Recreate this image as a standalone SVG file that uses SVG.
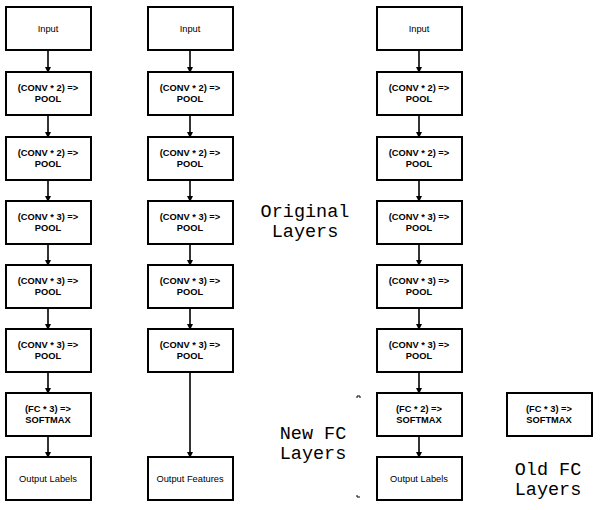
<svg xmlns="http://www.w3.org/2000/svg" width="600" height="510" viewBox="0 0 600 510">
<style>
.box{fill:#fff;stroke:#000;stroke-width:2}
.t{font-family:"Liberation Sans",Arial,sans-serif;font-size:9.3px;text-anchor:middle;fill:#000}
.b{font-weight:bold;font-size:9.3px}
.c{stroke:#000;stroke-width:1.6;fill:none}
.m{font-family:"Liberation Mono","Courier New",monospace;font-size:18.5px;text-anchor:middle;fill:#000}
</style>
<defs>
<marker id="a" markerWidth="6" markerHeight="6" refX="5" refY="3" orient="auto" markerUnits="userSpaceOnUse">
<path d="M0,0 L6,3 L0,6 z" fill="#000"/>
</marker>
</defs>
<rect width="600" height="510" fill="#fff"/>
<g id="connectors">
<path class="c" marker-end="url(#a)" d="M48,50 V72"/>
<path class="c" marker-end="url(#a)" d="M48,115 V137"/>
<path class="c" marker-end="url(#a)" d="M48,180 V201"/>
<path class="c" marker-end="url(#a)" d="M48,244 V265"/>
<path class="c" marker-end="url(#a)" d="M48,308 V329"/>
<path class="c" marker-end="url(#a)" d="M48,372 V393"/>
<path class="c" marker-end="url(#a)" d="M48,436 V457"/>
<path class="c" marker-end="url(#a)" d="M190,50 V72"/>
<path class="c" marker-end="url(#a)" d="M190,115 V137"/>
<path class="c" marker-end="url(#a)" d="M190,180 V201"/>
<path class="c" marker-end="url(#a)" d="M190,244 V265"/>
<path class="c" marker-end="url(#a)" d="M190,308 V329"/>
<path class="c" marker-end="url(#a)" d="M190,372 V457"/>
<path class="c" marker-end="url(#a)" d="M419,50 V72"/>
<path class="c" marker-end="url(#a)" d="M419,115 V137"/>
<path class="c" marker-end="url(#a)" d="M419,180 V201"/>
<path class="c" marker-end="url(#a)" d="M419,244 V265"/>
<path class="c" marker-end="url(#a)" d="M419,308 V329"/>
<path class="c" marker-end="url(#a)" d="M419,372 V393"/>
<path class="c" marker-end="url(#a)" d="M419,436 V457"/>
</g>
<g id="c1-input"><rect class="box" x="6" y="7" width="85" height="43"/><text class="t" x="48" y="32">Input</text></g>
<g id="c1-conv1"><rect class="box" x="6" y="72" width="85" height="43"/><text class="t b" x="48" y="91">(CONV * 2) =&gt;</text><text class="t b" x="48" y="102">POOL</text></g>
<g id="c1-conv2"><rect class="box" x="6" y="137" width="85" height="43"/><text class="t b" x="48" y="156">(CONV * 2) =&gt;</text><text class="t b" x="48" y="167">POOL</text></g>
<g id="c1-conv3"><rect class="box" x="6" y="201" width="85" height="43"/><text class="t b" x="48" y="220">(CONV * 3) =&gt;</text><text class="t b" x="48" y="231">POOL</text></g>
<g id="c1-conv4"><rect class="box" x="6" y="265" width="85" height="43"/><text class="t b" x="48" y="284">(CONV * 3) =&gt;</text><text class="t b" x="48" y="295">POOL</text></g>
<g id="c1-conv5"><rect class="box" x="6" y="329" width="85" height="43"/><text class="t b" x="48" y="348">(CONV * 3) =&gt;</text><text class="t b" x="48" y="359">POOL</text></g>
<g id="c1-fc"><rect class="box" x="6" y="393" width="85" height="43"/><text class="t b" x="48" y="412">(FC * 3) =&gt;</text><text class="t b" x="48" y="423">SOFTMAX</text></g>
<g id="c1-out"><rect class="box" x="6" y="457" width="85" height="43"/><text class="t" x="48" y="482">Output Labels</text></g>

<g id="c2-input"><rect class="box" x="148" y="7" width="85" height="43"/><text class="t" x="190" y="32">Input</text></g>
<g id="c2-conv1"><rect class="box" x="148" y="72" width="85" height="43"/><text class="t b" x="190" y="91">(CONV * 2) =&gt;</text><text class="t b" x="190" y="102">POOL</text></g>
<g id="c2-conv2"><rect class="box" x="148" y="137" width="85" height="43"/><text class="t b" x="190" y="156">(CONV * 2) =&gt;</text><text class="t b" x="190" y="167">POOL</text></g>
<g id="c2-conv3"><rect class="box" x="148" y="201" width="85" height="43"/><text class="t b" x="190" y="220">(CONV * 3) =&gt;</text><text class="t b" x="190" y="231">POOL</text></g>
<g id="c2-conv4"><rect class="box" x="148" y="265" width="85" height="43"/><text class="t b" x="190" y="284">(CONV * 3) =&gt;</text><text class="t b" x="190" y="295">POOL</text></g>
<g id="c2-conv5"><rect class="box" x="148" y="329" width="85" height="43"/><text class="t b" x="190" y="348">(CONV * 3) =&gt;</text><text class="t b" x="190" y="359">POOL</text></g>
<g id="c2-out"><rect class="box" x="148" y="457" width="85" height="43"/><text class="t" x="190" y="482">Output Features</text></g>

<g id="c3-input"><rect class="box" x="377" y="7" width="85" height="43"/><text class="t" x="419" y="32">Input</text></g>
<g id="c3-conv1"><rect class="box" x="377" y="72" width="85" height="43"/><text class="t b" x="419" y="91">(CONV * 2) =&gt;</text><text class="t b" x="419" y="102">POOL</text></g>
<g id="c3-conv2"><rect class="box" x="377" y="137" width="85" height="43"/><text class="t b" x="419" y="156">(CONV * 2) =&gt;</text><text class="t b" x="419" y="167">POOL</text></g>
<g id="c3-conv3"><rect class="box" x="377" y="201" width="85" height="43"/><text class="t b" x="419" y="220">(CONV * 3) =&gt;</text><text class="t b" x="419" y="231">POOL</text></g>
<g id="c3-conv4"><rect class="box" x="377" y="265" width="85" height="43"/><text class="t b" x="419" y="284">(CONV * 3) =&gt;</text><text class="t b" x="419" y="295">POOL</text></g>
<g id="c3-conv5"><rect class="box" x="377" y="329" width="85" height="43"/><text class="t b" x="419" y="348">(CONV * 3) =&gt;</text><text class="t b" x="419" y="359">POOL</text></g>
<g id="c3-fc"><rect class="box" x="377" y="393" width="85" height="43"/><text class="t b" x="419" y="412">(FC * 2) =&gt;</text><text class="t b" x="419" y="423">SOFTMAX</text></g>
<g id="c3-out"><rect class="box" x="377" y="457" width="85" height="43"/><text class="t" x="419" y="482">Output Labels</text></g>

<g id="c4-fc"><rect class="box" x="507" y="393" width="85" height="43"/><text class="t b" x="549" y="412">(FC * 3) =&gt;</text><text class="t b" x="549" y="423">SOFTMAX</text></g>

<g id="label-original"><text class="m" x="305" y="217">Original</text><text class="m" x="305" y="237">Layers</text></g>
<g id="label-new"><text class="m" x="313" y="439">New FC</text><text class="m" x="313" y="459">Layers</text></g>
<g id="label-old"><text class="m" x="548" y="475">Old FC</text><text class="m" x="548" y="495">Layers</text></g>
<g id="brackets"><path d="M357,398 V396 H360 V398" stroke="#000" stroke-width="1" fill="none"/><path d="M357,495 V497 H360" stroke="#000" stroke-width="1" fill="none"/></g>
</svg>
